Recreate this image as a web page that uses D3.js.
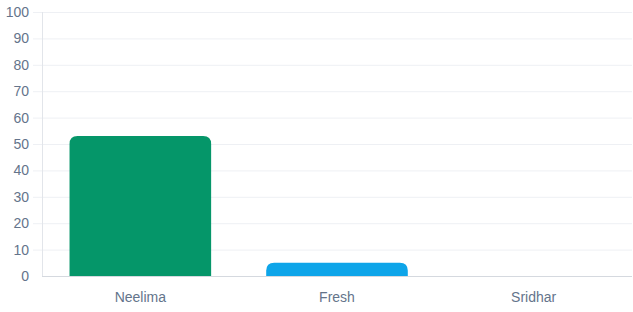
<!DOCTYPE html>
<html lang="en">
<head>
    <meta charset="UTF-8">
    <title>Chart</title>
    <style>
        body { margin: 0; background: white; }
        svg { display: block; font-family: "Liberation Sans", Arial, sans-serif; }
    </style>
</head>
<body>
    <script src="https://d3js.org/d3.v7.min.js"></script>
    <script>
        const names = ['Neelima', 'Fresh', 'Sridhar'];
        const values = [53, 5, 0];
        const colors = ['#059669', '#0ea5e9', '#8b5cf6'];
        const yTicks = [0, 10, 20, 30, 40, 50, 60, 70, 80, 90, 100];

        const width = 633, height = 312;
        const plotLeft = 42, plotRight = 632, plotTop = 12, plotBottom = 276;
        const textColor = '#64748b';

        let svg = d3.select('body').append('svg')
            .attr('width', width)
            .attr('height', height);

        let x = d3.scaleBand().domain(names).range([plotLeft, plotRight]);
        let y = d3.scaleLinear().domain([0, 100]).range([plotBottom, plotTop]);

        // grid + y ticks
        svg.append('g').selectAll('line')
            .data(yTicks.filter(d => d > 0))
            .enter().append('line')
            .attr('x1', plotLeft - 9).attr('x2', plotRight)
            .attr('y1', d => y(d) + 0.5).attr('y2', d => y(d) + 0.5)
            .attr('stroke', '#eef0f4');

        svg.append('g').selectAll('text')
            .data(yTicks)
            .enter().append('text')
            .attr('x', 29)
            .attr('y', d => y(d))
            .attr('dy', '0.35em')
            .attr('text-anchor', 'end')
            .attr('font-size', 14)
            .attr('fill', textColor)
            .text(d => d);

        // y axis line
        svg.append('line')
            .attr('x1', plotLeft + 0.5).attr('x2', plotLeft + 0.5)
            .attr('y1', plotTop).attr('y2', plotBottom)
            .attr('stroke', '#e2e5ea');

        // bars, rounded top corners
        const r = 8;
        function barPath(d, i) {
            let bw = x.bandwidth() * 0.72;
            let x0 = x(names[i]) + (x.bandwidth() - bw) / 2;
            let x1 = x0 + bw;
            let y0 = y(d), y1 = y(0);
            if (y1 - y0 <= 0) return '';
            let rr = Math.min(r, (y1 - y0), bw / 2);
            return `M${x0},${y1} L${x0},${y0 + rr} Q${x0},${y0} ${x0 + rr},${y0} ` +
                `L${x1 - rr},${y0} Q${x1},${y0} ${x1},${y0 + rr} L${x1},${y1} Z`;
        }

        svg.append('g').selectAll('path')
            .data(values)
            .enter().append('path')
            .attr('d', barPath)
            .attr('fill', (d, i) => colors[i]);

        // x axis line
        svg.append('line')
            .attr('x1', plotLeft).attr('x2', plotRight)
            .attr('y1', plotBottom + 0.5).attr('y2', plotBottom + 0.5)
            .attr('stroke', '#d5d9df');

        svg.append('g').selectAll('text')
            .data(names)
            .enter().append('text')
            .attr('x', d => x(d) + x.bandwidth() / 2)
            .attr('y', 302)
            .attr('text-anchor', 'middle')
            .attr('font-size', 14)
            .attr('fill', textColor)
            .text(d => d);
    </script>
</body>
</html>
